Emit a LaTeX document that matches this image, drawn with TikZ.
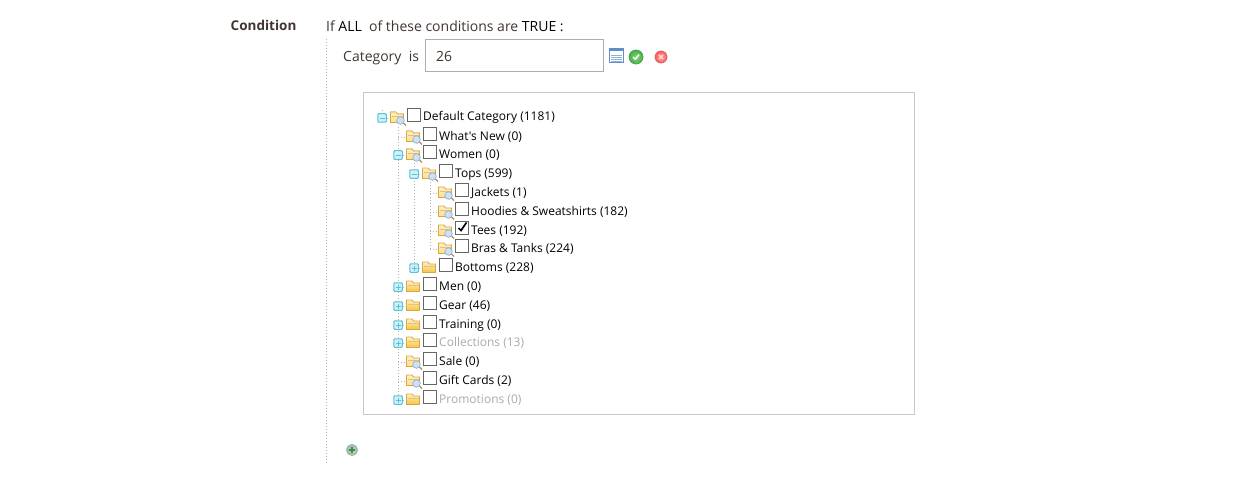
\documentclass[tikz,border=0pt]{standalone}
\usepackage{fontspec}
\setmainfont{Open Sans}
\newfontfamily\straightfont{Open Sans}
\definecolor{ink}{HTML}{41362F}
\definecolor{dots}{HTML}{B4B4B4}
\definecolor{panel}{HTML}{C8C8C8}
\definecolor{expfill}{HTML}{D5EFF6}
\definecolor{expline}{HTML}{52C4DC}
\definecolor{foldline}{HTML}{DDA63F}
\definecolor{foldpale}{HTML}{FCF0C4}
\definecolor{foldmid}{HTML}{FBE08E}
\definecolor{foldlow}{HTML}{F4C542}
\definecolor{lensline}{HTML}{8FB2D8}
\definecolor{lensfill}{HTML}{CFE0F2}
\definecolor{handle}{HTML}{C58A45}
\definecolor{chooserblue}{HTML}{5F8FC8}
\definecolor{addrim}{HTML}{9DB8A0}
\definecolor{addfill}{HTML}{CFE0D0}
\definecolor{addmark}{HTML}{3F8A4F}
\tikzset{
  labeltext/.style={inner sep=0pt,anchor=base west,text=ink,font=\fontsize{14}{16}\selectfont},
  treetext/.style={inner sep=0pt,anchor=base west,text=black,font=\fontsize{12}{14}\selectfont},
  greytext/.style={treetext,text=black!33},
  chk/.style={draw=black!60,line width=.9pt,fill=white,minimum size=13pt,inner sep=0pt,rectangle},
  expbox/.style={draw=expline,line width=1pt,fill=expfill,minimum size=8.5pt,inner sep=0pt,rectangle,rounded corners=.8pt},
  dotline/.style={draw=dots,line width=.8pt,dash pattern=on 1pt off 2pt},
  anchorpt/.style={inner sep=0pt,minimum size=13pt,rectangle},
}
\newcommand{\folder}[4]{% name, position, shade of the upper part, shade of the lower part
  \node[anchorpt] (#1) at (#2) {};
  \filldraw[draw=foldline,line width=.8pt,top color=#3,bottom color=#4]
    ([shift={(-6.5,-5.5)}]#1.center) -- ([shift={(-1,-5.5)}]#1.center) -- ([shift={(.5,-3.5)}]#1.center) -- ([shift={(6.5,-3.5)}]#1.center) -- ([shift={(6.5,5)}]#1.center) -- ([shift={(-6.5,5)}]#1.center) -- cycle;
  \draw[foldline!70,line width=.6pt] ([shift={(-5.5,-1.5)}]#1.center) -- ([shift={(6,-1.5)}]#1.center);
}
\newcommand{\lensfolder}[2]{%
  \folder{#1}{#2}{foldpale}{foldmid}
  \draw[line width=1.3pt,handle] ([shift={(6,5)}]#1.center) -- ([shift={(9,8)}]#1.center);
  \filldraw[draw=lensline,line width=.7pt,fill=lensfill] ([shift={(3.5,3)}]#1.center) circle (3.8pt);
}
\newcommand{\cat}[6]{% name, x of expander column, row y, label, style, icon(0 lens,1 minus,2 plus,3 lens with tick)
  \pgfmathsetmacro{\fx}{#2+15}\pgfmathsetmacro{\cx}{#2+32}\pgfmathsetmacro{\tx}{#2+41}
  \pgfmathsetmacro{\fy}{#3+1.5}\pgfmathsetmacro{\cy}{#3-1.5}\pgfmathsetmacro{\ty}{#3+5}\pgfmathsetmacro{\ey}{#3+2}
  \coordinate (#1s) at (#2,\ey);
  \ifnum#6=1 \node[expbox] (#1e) at (#2,\ey) {};\draw[dotline] (#1e.east) -- ++(3,0);\lensfolder{#1f}{\fx,\fy}
    \draw[expline,line width=.8pt] ([xshift=-2.5pt]#1e.center) -- ([xshift=2.5pt]#1e.center);\fi
  \ifnum#6=2 \node[expbox] (#1e) at (#2,\ey) {};\draw[dotline] (#1e.east) -- ++(3,0);\folder{#1f}{\fx,\fy}{foldpale}{foldlow}
    \draw[expline,line width=.8pt] ([xshift=-2.5pt]#1e.center) -- ([xshift=2.5pt]#1e.center) ([yshift=-2.5pt]#1e.center) -- ([yshift=2.5pt]#1e.center);\fi
  \ifnum#6=0 \draw[dotline] (#1s) -- ++(8,0);\lensfolder{#1f}{\fx,\fy}\fi
  \ifnum#6=3 \draw[dotline] (#1s) -- ++(8,0);\lensfolder{#1f}{\fx,\fy}\fi
  \node[chk] (#1c) at (\cx,\cy) {};
  \ifnum#6=3 \draw[black,line width=1.7pt] ([shift={(-3.5,.5)}]#1c.center) -- ([shift={(-1,3)}]#1c.center) -- ([shift={(4.5,-5)}]#1c.center);\fi
  \node[#5] (#1t) at (\tx,\ty) {#4};
}
\begin{document}
\begin{tikzpicture}[x=1pt,y=-1pt]
\useasboundingbox (0,0) rectangle (1258,484);
\fill[white] (0,0) rectangle (1258,484);

\node[labeltext,font=\fontsize{13.5}{16}\selectfont\bfseries] (cond) at (230.5,31) {Condition};
\node[labeltext] (ifall) at (326,31.5) {If \textcolor{black}{ALL}\ \ of these conditions are \textcolor{black}{TRUE :}};
\node[labeltext] (catis) at (343,61.5) {Category\ \ is};
\node[draw=black!32,line width=1pt,fill=white,minimum width=178pt,minimum height=32pt,inner sep=0pt] (input) at (514.5,55.5) {};
\node[labeltext] (val) at (436,61.5) {26};

% chooser icon
\node[draw=chooserblue,line width=1pt,fill=white,minimum width=14pt,minimum height=12pt,inner sep=0pt] (chooser) at (616.5,57) {};
\fill[chooserblue] (chooser.north west) rectangle ([yshift=2.5pt]chooser.north east);
\foreach \yy in {-1.5,.5,2.5,4.5}{\draw[lensline,line width=.6pt] ([shift={(-5.5,\yy)}]chooser.center) -- ([shift={(5.5,\yy)}]chooser.center);}
% apply icon
\node[circle,draw=green!50!black!70,line width=.8pt,inner color=green!60!black!45,outer color=green!60!black!75,minimum size=14pt,inner sep=0pt] (apply) at (636,57) {};
\draw[white,line width=1.4pt] ([shift={(-3,0)}]apply.center) -- ([shift={(-.8,2.2)}]apply.center) -- ([shift={(3.2,-2.5)}]apply.center);
% remove icon
\node[circle,draw=red!70!black!60,line width=.8pt,inner color=red!35!white,outer color=red!65!white,minimum size=12pt,inner sep=0pt] (remove) at (661,57) {};
\draw[white!85!red,line width=1.1pt] ([shift={(-2.2,-2.2)}]remove.center) -- ([shift={(2.2,2.2)}]remove.center) ([shift={(-2.2,2.2)}]remove.center) -- ([shift={(2.2,-2.2)}]remove.center);

% rule guide
\coordinate (guideT) at (326.5,39);
\coordinate (guideB) at (326.5,464);
\draw[dotline] (guideT) -- (guideB);

% panel
\node[draw=panel,line width=1pt,fill=white,minimum width=551pt,minimum height=321pt,inner sep=0pt] (panel) at (639,253.5) {};

% tree guides
\coordinate (v0a) at (382,110);\coordinate (v0b) at (382,114);
\coordinate (v1a) at (398,127);\coordinate (v1b) at (398,396);
\coordinate (v2a) at (414,163);\coordinate (v2b) at (414,264);
\coordinate (v3a) at (430,182);\coordinate (v3b) at (430,250);
\draw[dotline] (v0a) -- (v0b);
\draw[dotline] (v1a) -- (v1b);
\draw[dotline] (v2a) -- (v2b);
\draw[dotline] (v3a) -- (v3b);

\cat{dc}{382}{116}{Default Category (1181)}{treetext}{1}
\cat{wn}{398}{135}{{\straightfont What's New (0)}}{treetext}{0}
\cat{wo}{398}{153}{Women (0)}{treetext}{1}
\cat{to}{414}{172}{Tops (599)}{treetext}{1}
\cat{ja}{430}{191}{Jackets (1)}{treetext}{0}
\cat{ho}{430}{210}{Hoodies \& Sweatshirts (182)}{treetext}{0}
\cat{te}{430}{229}{Tees (192)}{treetext}{3}
\cat{br}{430}{247}{Bras \& Tanks (224)}{treetext}{0}
\cat{bo}{414}{266}{Bottoms (228)}{treetext}{2}
\cat{me}{398}{285}{Men (0)}{treetext}{2}
\cat{ge}{398}{304}{Gear (46)}{treetext}{2}
\cat{tr}{398}{323}{Training (0)}{treetext}{2}
\cat{co}{398}{341}{Collections (13)}{greytext}{2}
\cat{sa}{398}{360}{Sale (0)}{treetext}{0}
\cat{gc}{398}{379}{Gift Cards (2)}{treetext}{0}
\cat{pr}{398}{398}{Promotions (0)}{greytext}{2}

% add icon
\node[circle,draw=addrim,line width=1pt,inner color=addfill,outer color=addrim,minimum size=11pt,inner sep=0pt] (add) at (352,450) {};
\draw[addmark,line width=1.3pt] ([xshift=-3pt]add.center) -- ([xshift=3pt]add.center) ([yshift=-3pt]add.center) -- ([yshift=3pt]add.center);
\end{tikzpicture}
\end{document}
